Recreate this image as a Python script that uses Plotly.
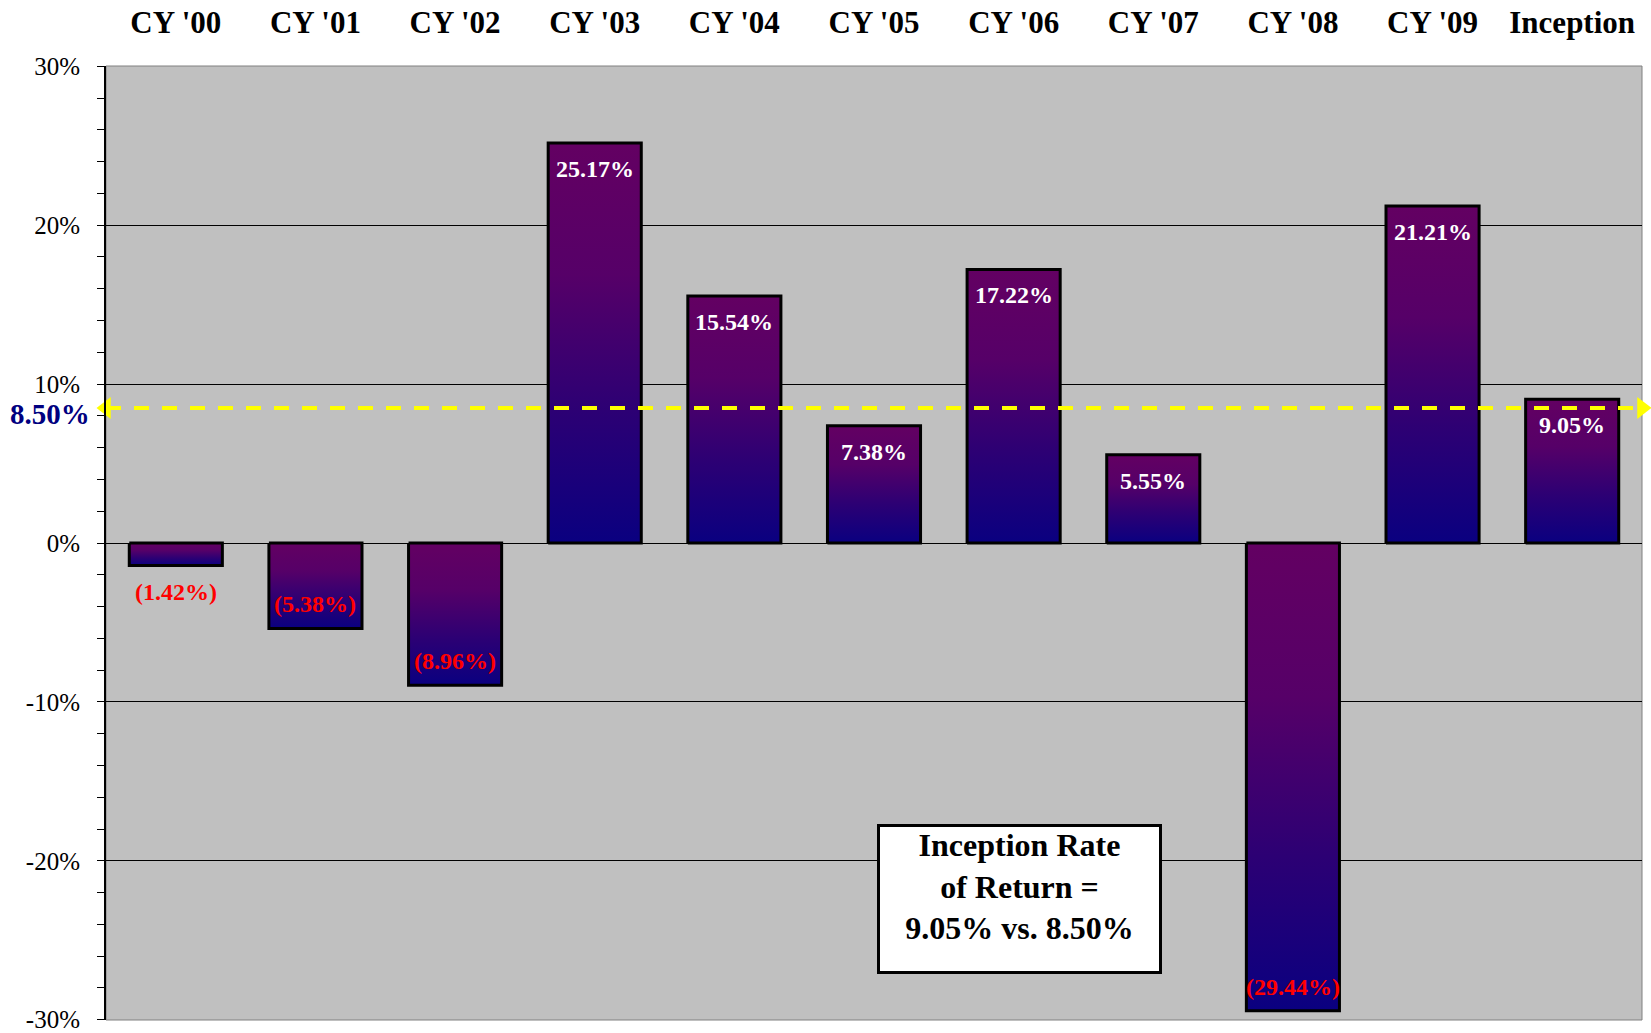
import plotly.graph_objects as go

# Calendar-year returns (%) and the since-inception figure
categories = ["CY '00", "CY '01", "CY '02", "CY '03", "CY '04", "CY '05",
              "CY '06", "CY '07", "CY '08", "CY '09", "Inception"]
returns = [-1.42, -5.38, -8.96, 25.17, 15.54, 7.38, 17.22, 5.55, -29.44, 21.21, 9.05]
benchmark = 8.50

y_ticks = [-30, -20, -10, 0, 10, 20, 30]
y_tick_text = ["-30%", "-20%", "-10%", "0%", "10%", "20%", "30%"]

FONT = "Liberation Serif, Times New Roman, serif"
BAR_HALF = 1 / 3
GRADIENT = [[0, "#0a0080"], [0.33, "#2c0074"], [0.67, "#560068"], [1, "#630062"]]

fig = go.Figure()

# Each column is a filled polygon so it can carry its own vertical gradient
for i, v in enumerate(returns):
    xs = [i - BAR_HALF, i + BAR_HALF, i + BAR_HALF, i - BAR_HALF, i - BAR_HALF]
    ys = [0, 0, v, v, 0]
    fig.add_trace(go.Scatter(
        x=xs, y=ys, mode="lines", fill="toself",
        fillgradient=dict(type="vertical", colorscale=GRADIENT),
        line=dict(color="black", width=3),
        hoverinfo="skip", showlegend=False,
    ))

# Benchmark line with arrowheads at both ends
n = len(categories)
fig.add_trace(go.Scatter(
    x=[-0.5, n - 0.5], y=[benchmark, benchmark], mode="lines",
    line=dict(color="#ffff00", width=4, dash="15px,13px"),
    cliponaxis=False, hoverinfo="skip", showlegend=False,
))
fig.add_trace(go.Scatter(
    x=[-0.5, n - 0.5], y=[benchmark, benchmark], mode="markers",
    marker=dict(symbol=["triangle-left", "triangle-right"], size=19,
                color="#ffff00", line=dict(width=0)),
    cliponaxis=False, hoverinfo="skip", showlegend=False,
))

annotations = []
# Value labels: inside the column end when it fits, otherwise just beyond it
for i, v in enumerate(returns):
    txt = f"{v:.2f}%" if v >= 0 else f"({abs(v):.2f}%)"
    fits = abs(v) >= 3
    if v >= 0:
        shift = -26 if fits else 26
    else:
        shift = 24 if fits else -26
    annotations.append(dict(
        x=i, y=v, xref="x", yref="y", text=txt, showarrow=False,
        yshift=shift, yanchor="middle",
        font=dict(family=FONT, size=24, weight="bold",
                  color="white" if v >= 0 else "#ff0000"),
    ))

# Benchmark value next to the axis
annotations.append(dict(
    x=0, xref="paper", y=benchmark, yref="y", text=f"{benchmark:.2f}%",
    showarrow=False, xanchor="right", xshift=-14, yshift=-6,
    font=dict(family=FONT, size=29, weight="bold", color="#000080"),
))

# Summary box
annotations.append(dict(
    x=0.595, y=0.2055, xref="paper", yref="paper", xanchor="center", yanchor="top",
    text=f"Inception Rate<br>of Return =<br>{returns[-1]:.2f}% vs. {benchmark:.2f}%",
    showarrow=False, width=279, height=144, valign="top", align="center",
    bgcolor="white", bordercolor="black", borderwidth=3, borderpad=0,
    font=dict(family=FONT, size=32, weight="bold", color="black"),
))

fig.update_layout(
    width=1651, height=1033,
    margin=dict(l=106, r=9, t=66, b=13),
    paper_bgcolor="white", plot_bgcolor="#c0c0c0",
    font=dict(family=FONT, color="black"),
    showlegend=False,
    annotations=annotations,
    shapes=[dict(type="rect", xref="paper", yref="paper", x0=0, x1=1, y0=0, y1=1,
                 line=dict(color="#808080", width=1), layer="below")],
    xaxis=dict(
        range=[-0.5, n - 0.5], side="top", automargin=False,
        tickvals=list(range(n)), ticktext=categories, ticks="",
        tickfont=dict(family=FONT, size=31, weight="bold", color="black"),
        ticklabelstandoff=26, ticklabeloverflow="allow",
        showgrid=False, zeroline=False, showline=False, fixedrange=True,
    ),
    # Zero line with tick marks at the category boundaries
    xaxis2=dict(
        overlaying="x", anchor="free", position=0.5, side="bottom",
        automargin=False,
        range=[-0.5, n - 0.5], tickvals=[k - 0.5 for k in range(n + 1)],
        ticks="outside", ticklen=8, tickwidth=2, tickcolor="black",
        showticklabels=False, showgrid=False, zeroline=False,
        showline=True, linecolor="black", linewidth=3,
    ),
    yaxis=dict(
        range=[-30.02, 30.02], tickvals=y_ticks, ticktext=y_tick_text,
        automargin=False, ticklabeloverflow="allow",
        ticks="outside", ticklen=7, tickwidth=1, tickcolor="black",
        tickfont=dict(family=FONT, size=25, color="black"),
        ticklabelstandoff=12,
        showgrid=True, gridcolor="black", gridwidth=1,
        zeroline=False, showline=True, linecolor="black", linewidth=2,
        minor=dict(dtick=2, ticks="outside", ticklen=7, tickcolor="black",
                   showgrid=False),
        fixedrange=True,
    ),
)

fig.write_html("out.html")
